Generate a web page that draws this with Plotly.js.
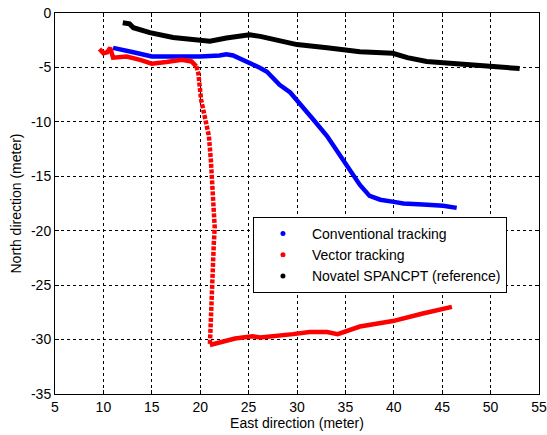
<!DOCTYPE html>
<html><head><meta charset="utf-8">
<script src="https://cdn.plot.ly/plotly-3.0.1.min.js"></script>
<style>html,body{margin:0;padding:0;background:#fff}#chart{width:547px;height:435px}</style>
</head><body><div id="chart"></div>
<script>
const seriesNames = ["Conventional tracking", "Vector tracking", "Novatel SPANCPT (reference)"];
const seriesColors = ["#0000ff", "#ff0000", "#000000"];

const convX = [11.0, 12.0, 13.1, 15.0, 17.5, 20.0, 22.0, 22.7, 23.4, 24.2, 25.1, 26.2, 26.9, 28.2, 29.3, 30.5, 31.7, 33.1, 34.2, 35.2, 36.5, 37.5, 38.6, 40.0, 41.0, 43.0, 45.1, 46.5];
const convY = [-3.2, -3.35, -3.6, -4.0, -4.05, -4.0, -3.9, -3.8, -3.9, -4.2, -4.6, -5.05, -5.4, -6.6, -7.3, -8.5, -9.8, -11.3, -12.7, -14.1, -15.8, -16.8, -17.15, -17.35, -17.5, -17.6, -17.7, -17.9];

const vecX = [9.6, 10.0, 10.4, 10.7, 11.0, 12.4, 13.8, 15.0, 16.5, 18.1, 19.1, 19.6];
const vecY = [-3.3, -3.7, -3.6, -3.2, -4.1, -4.0, -4.3, -4.65, -4.5, -4.3, -4.45, -4.9];
const vecDropX = [19.6, 19.8, 20.1, 20.5, 20.9, 21.1, 21.3, 21.5, 21.4, 21.2, 21.1, 21.0, 21.0];
const vecDropY = [-4.9, -5.5, -8.0, -9.5, -11.3, -13.5, -16.9, -19.7, -21.3, -25.9, -28.7, -30.2, -30.5];
const vecEndX = [21.0, 21.8, 23.6, 25.4, 26.2, 29.6, 31.3, 33.1, 34.2, 36.5, 39.9, 43.0, 44.8, 46.0];
const vecEndY = [-30.5, -30.3, -29.9, -29.7, -29.8, -29.5, -29.3, -29.3, -29.5, -28.8, -28.3, -27.6, -27.2, -27.0];

const refX = [12.0, 12.7, 13.1, 14.8, 17.2, 19.0, 21.0, 22.7, 25.1, 26.2, 28.2, 30.0, 33.1, 36.5, 39.9, 41.4, 43.4, 46.8, 50.3, 53.0];
const refY = [-0.9, -1.0, -1.35, -1.8, -2.25, -2.45, -2.6, -2.3, -2.0, -2.15, -2.6, -2.9, -3.2, -3.55, -3.7, -4.1, -4.45, -4.65, -4.9, -5.1];

const xTicks = [5, 10, 15, 20, 25, 30, 35, 40, 45, 50, 55];
const yTicks = [0, -5, -10, -15, -20, -25, -30, -35];
const yTickText = ["0", "-5", "-10", "-15", "-20", "-25", "-30", "-35"];

const lineW = 4.5;
const traces = [
  {x: convX, y: convY, mode: "lines", line: {color: seriesColors[0], width: lineW}, showlegend: false},
  {x: vecX, y: vecY, mode: "lines", line: {color: seriesColors[1], width: lineW}, showlegend: false},
  {x: vecDropX, y: vecDropY, mode: "lines", line: {color: seriesColors[1], width: 4.5, dash: "4px,1.5px"}, showlegend: false},
  {x: vecEndX, y: vecEndY, mode: "lines", line: {color: seriesColors[1], width: lineW}, showlegend: false},
  {x: refX, y: refY, mode: "lines", line: {color: seriesColors[2], width: 5}, showlegend: false},
];
seriesNames.forEach((n, i) => traces.push({x: [null], y: [null], mode: "markers", name: n,
  marker: {color: seriesColors[i], size: 5}}));

const font = {family: "Liberation Sans, Arial, sans-serif", size: 14, color: "#000"};
const axisCommon = {showline: true, linecolor: "#000", linewidth: 1, mirror: "ticks",
  ticks: "inside", ticklen: 4, tickcolor: "#000", showgrid: true, gridcolor: "#000",
  griddash: "dot", gridwidth: 1, zeroline: false, tickfont: font};
const layout = {
  width: 547, height: 435,
  margin: {l: 55, r: 8, t: 13, b: 41},
  paper_bgcolor: "#fff", plot_bgcolor: "#fff",
  font: font,
  xaxis: Object.assign({}, axisCommon, {range: [5, 55], tickvals: xTicks,
    title: {text: "East direction (meter)", font: font, standoff: 4}}),
  yaxis: Object.assign({}, axisCommon, {range: [-35, 0], tickvals: yTicks, ticktext: yTickText,
    title: {text: "North direction (meter)", font: font, standoff: 6}}),
  legend: {x: 0.409, y: 0.4646, xanchor: "left", yanchor: "top", bgcolor: "#fff",
    bordercolor: "#000", borderwidth: 1, font: font, itemwidth: 48},
  showlegend: true
};
Plotly.newPlot("chart", traces, layout, {staticPlot: true});
</script></body></html>
